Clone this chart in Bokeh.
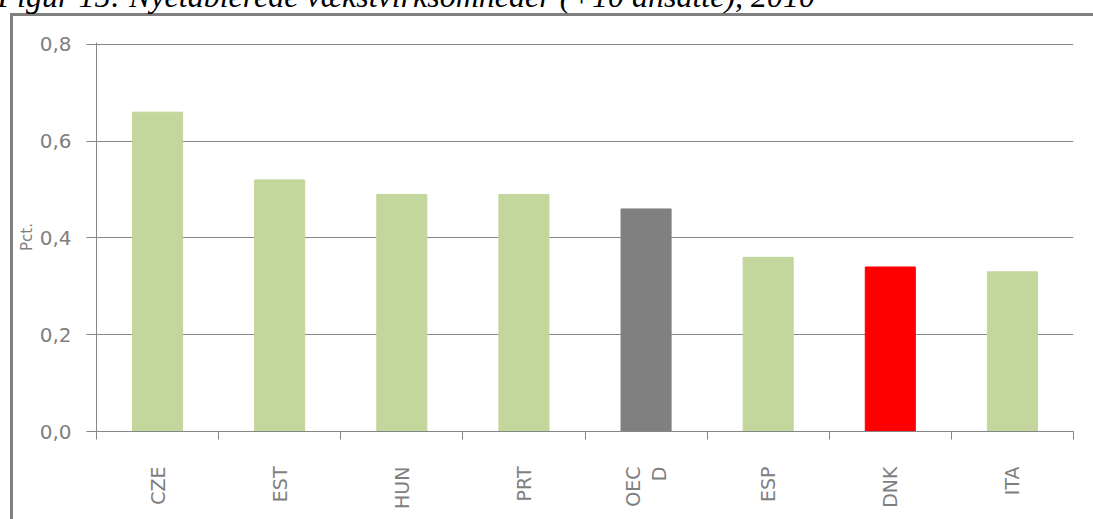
import math
from bokeh.plotting import figure
from bokeh.models import (Range1d, FixedTicker, CustomJSTickFormatter, Title, ColumnDataSource)
from bokeh.embed import file_html
from bokeh.resources import INLINE

# ---- data ----
categories = ["CZE", "EST", "HUN", "PRT", "OEC\nD", "ESP", "DNK", "ITA"]
values = [0.66, 0.52, 0.49, 0.49, 0.46, 0.36, 0.34, 0.33]
colors = ["#C3D69B", "#C3D69B", "#C3D69B", "#C3D69B", "#808080", "#C3D69B", "#FF0000", "#C3D69B"]
y_ticks = [0.0, 0.2, 0.4, 0.6, 0.8]
title_text = "Figur 15: Nyetablerede vækstvirksomheder (+10 ansatte), 2010"
y_label = "Pct."

n = len(categories)
centers = [i + 0.5 for i in range(n)]
bounds = [i for i in range(n + 1)]

src = ColumnDataSource(dict(x=centers, top=values, color=colors))

SHIFT = 65  # canvas pushed up so the title is cut at the top like the original page crop
W, H = 1093, 519 + SHIFT
ML, MT, MR, MB = 96, 42 + SHIFT, 20, 88
frame_css = ("linear-gradient(#808080,#808080) 10px %dpx / 3px 100%% no-repeat, "
             "linear-gradient(#808080,#808080) 10px %dpx / 100%% 3px no-repeat, #ffffff"
             % (13 + SHIFT, 13 + SHIFT))
p = figure(width=W, height=H, output_backend="svg", toolbar_location=None,
           x_range=Range1d(0, n), y_range=Range1d(0, 0.804),
           min_border_left=ML, min_border_right=MR, min_border_top=MT, min_border_bottom=MB,
           styles={"margin-top": "-%dpx" % SHIFT, "background": frame_css})
p.outline_line_color = None
p.background_fill_color = "white"
p.border_fill_color = None

p.vbar(x="x", top="top", width=0.41, bottom=0, color="color", source=src)

grey = "#868686"
text_grey = "#7f7f7f"

# x axis
xa = p.xaxis[0]
xa.ticker = FixedTicker(ticks=centers, minor_ticks=bounds)
xa.formatter = CustomJSTickFormatter(args=dict(labels=categories),
                                     code="return labels[Math.floor(tick)]")
xa.major_tick_out = 0
xa.major_tick_in = 0
xa.minor_tick_out = 8
xa.minor_tick_in = 0
xa.minor_tick_line_color = grey
xa.axis_line_color = grey
xa.major_label_orientation = math.pi / 2
xa.major_label_standoff = 27
xa.major_label_text_font = "DejaVu Sans"
xa.major_label_text_font_size = "19px"
xa.major_label_text_color = text_grey
p.xgrid.grid_line_color = None

# y axis
ya = p.yaxis[0]
ya.ticker = FixedTicker(ticks=y_ticks, minor_ticks=[])
ya.formatter = CustomJSTickFormatter(code="return tick.toFixed(1).replace('.', ',')")
ya.major_tick_out = 10
ya.major_tick_in = 0
ya.major_tick_line_color = grey
ya.axis_line_color = grey
ya.major_label_standoff = 15
ya.major_label_text_font = "DejaVu Sans"
ya.major_label_text_font_size = "20px"
ya.major_label_text_color = text_grey
ya.axis_label = y_label
ya.axis_label_text_font = "DejaVu Sans"
ya.axis_label_text_font_size = "15px"
ya.axis_label_text_font_style = "normal"
ya.axis_label_text_color = text_grey
ya.axis_label_standoff = 1
p.ygrid.grid_line_color = grey
p.ygrid.grid_line_width = 1

# title (only its lower part is visible, as in the original)
t = Title(text=title_text, align="left", offset=-99, standoff=58,
          text_font="Liberation Serif", text_font_style="italic",
          text_font_size="32px", text_color="black", vertical_align="bottom")
p.add_layout(t, "above")

open("out.html", "w").write(file_html(p, INLINE))
